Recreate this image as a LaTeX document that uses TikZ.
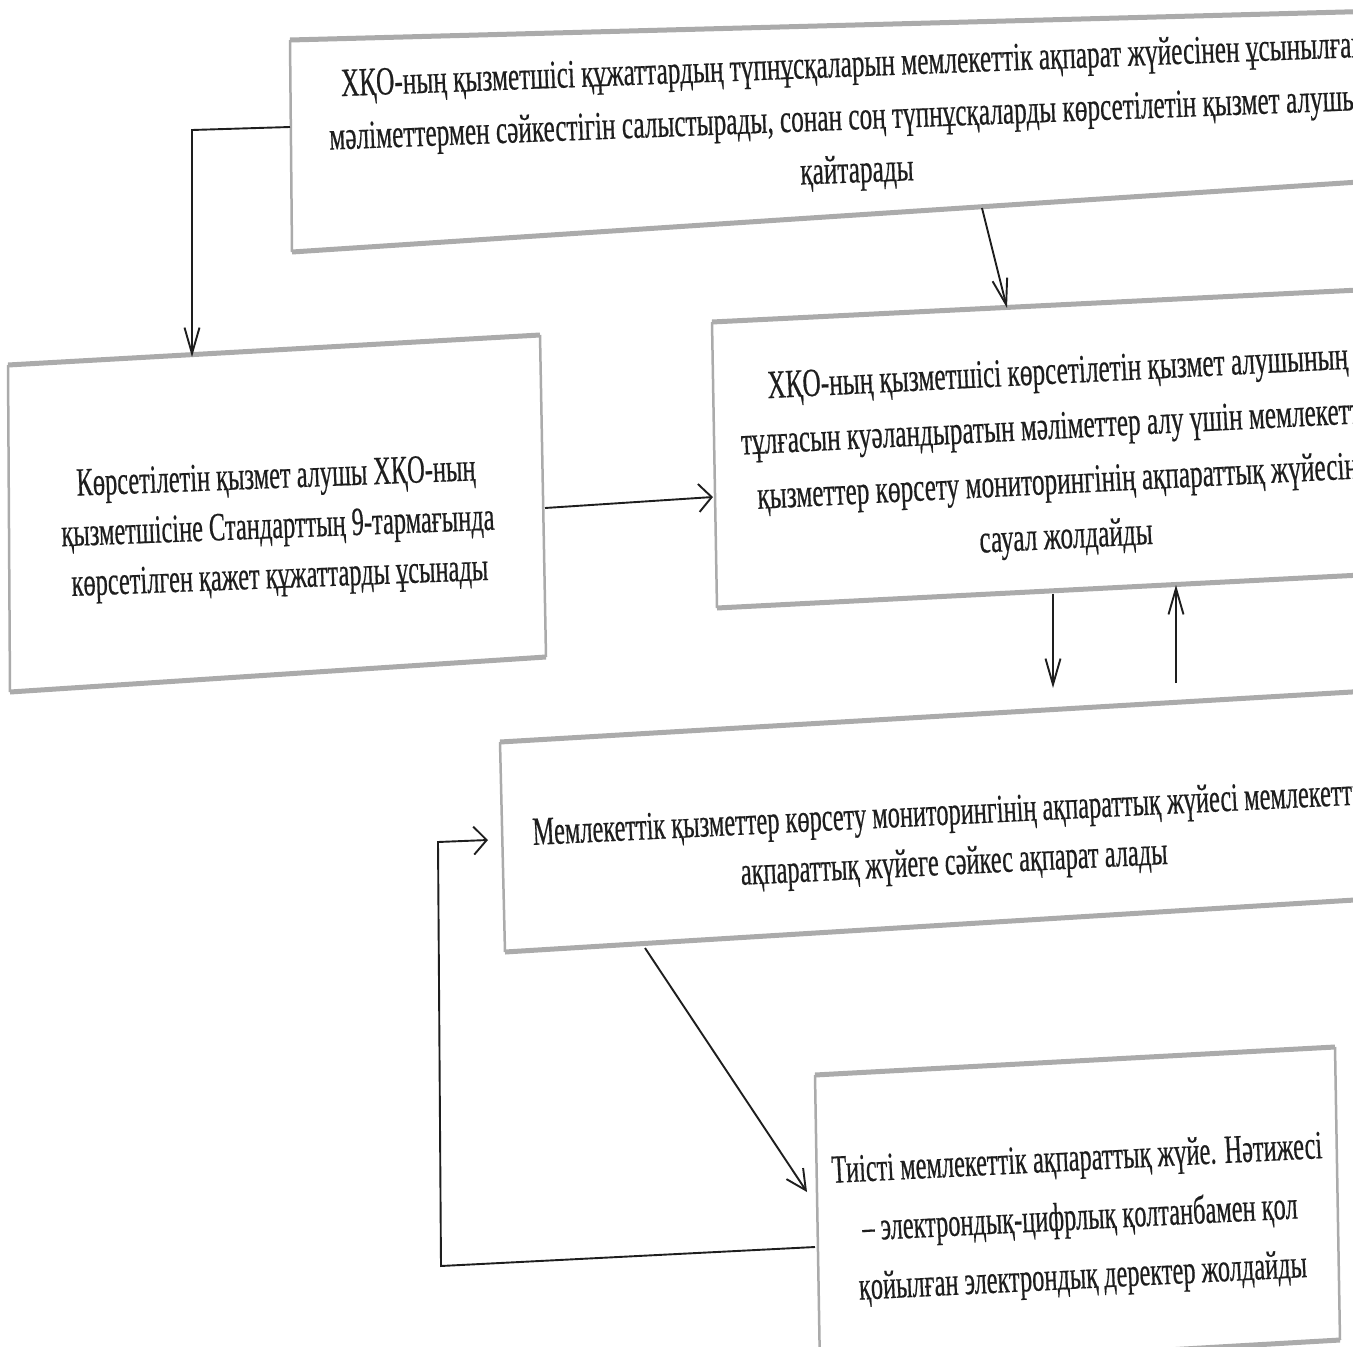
\documentclass[tikz,border=0pt]{standalone}
\usepackage{fontspec}
\setmainfont{Liberation Serif}[FakeStretch=0.61,FakeBold=0.4]
\newfontfamily\kzwide{Liberation Serif}[FakeStretch=0.632,FakeBold=0.4]
\usetikzlibrary{arrows.meta}
\definecolor{ink}{HTML}{1E1E1E}
\definecolor{edgec}{HTML}{ABABAB}
\begin{document}
\begin{tikzpicture}[x=1pt,y=-1pt,
  hedge/.style={draw=edgec, line width=5pt},
  vedge/.style={draw=edgec, line width=2.5pt},
  txt/.style={align=center, text=ink, inner sep=0pt, font=\fontsize{40}{50}\selectfont},
  conn/.style={draw=ink, line width=1.9pt},
  vtip/.style={-{Straight Barb[length=26pt,width=15pt]}},
  htip/.style={-{Straight Barb[length=13pt,width=28pt]}},
  dtip/.style={-{Straight Barb[length=20pt,width=20pt]}}
]
\useasboundingbox (0,0) rectangle (1353,1347);
\clip (0,0) rectangle (1353,1347);
\fill[white] (0,0) rectangle (1353,1347);

% ---- box corners
\coordinate (t-nw) at (290,40);  \coordinate (t-ne) at (1420,10);
\coordinate (t-se) at (1420,178); \coordinate (t-sw) at (292,252);
\coordinate (l-nw) at (8,365);   \coordinate (l-ne) at (540,335);
\coordinate (l-se) at (546,657); \coordinate (l-sw) at (10,692);
\coordinate (r-nw) at (712,322); \coordinate (r-ne) at (1420,287);
\coordinate (r-se) at (1420,572); \coordinate (r-sw) at (717,608);
\coordinate (m-nw) at (500,742); \coordinate (m-ne) at (1420,688);
\coordinate (m-se) at (1420,896); \coordinate (m-sw) at (505,952);
\coordinate (b-nw) at (815,1075); \coordinate (b-ne) at (1335,1047);
\coordinate (b-se) at (1340,1340); \coordinate (b-sw) at (820,1370);

% ---- box outlines
\draw[hedge] (t-nw) -- (t-ne); \draw[hedge] (t-sw) -- (t-se); \draw[vedge] (t-nw) -- (t-sw);
\draw[hedge] (l-nw) -- (l-ne); \draw[hedge] (l-sw) -- (l-se); \draw[vedge] (l-nw) -- (l-sw); \draw[vedge] (l-ne) -- (l-se);
\draw[hedge] (r-nw) -- (r-ne); \draw[hedge] (r-sw) -- (r-se); \draw[vedge] (r-nw) -- (r-sw);
\draw[hedge] (m-nw) -- (m-ne); \draw[hedge] (m-sw) -- (m-se); \draw[vedge] (m-nw) -- (m-sw);
\draw[hedge] (b-nw) -- (b-ne); \draw[hedge] (b-sw) -- (b-se); \draw[vedge] (b-nw) -- (b-sw); \draw[vedge] (b-ne) -- (b-se);

% ---- texts
\node[txt, rotate=2.2, font=\kzwide\fontsize{40}{53}\selectfont] (top) at (855,120) {ХҚО-ның қызметшісі құжаттардың түпнұсқаларын мемлекеттік ақпарат жүйесінен ұсынылған\\мәліметтермен сәйкестігін салыстырады, сонан соң түпнұсқаларды көрсетілетін қызмет алушыға\\қайтарады};
\node[txt, rotate=2.2] (left) at (278,529) {Көрсетілетін қызмет алушы ХҚО-ның\\қызметшісіне Стандарттың 9-тармағында\\көрсетілген қажет құжаттарды ұсынады};
\node[txt, rotate=2.9, font=\kzwide\fontsize{40}{55}\selectfont] (right) at (1062,457) {ХҚО-ның қызметшісі көрсетілетін қызмет алушының\\тұлғасын куәландыратын мәліметтер алу үшін мемлекеттік\\қызметтер көрсету мониторингінің ақпараттық жүйесіне\\сауал жолдайды};
\node[txt, rotate=2.8] (mid) at (953,840) {Мемлекеттік қызметтер көрсету мониторингінің ақпараттық жүйесі мемлекеттік\\ақпараттық жүйеге сәйкес ақпарат алады};
\node[txt, rotate=2.9, font=\fontsize{40}{59}\selectfont] (bot) at (1080,1220) {Тиісті мемлекеттік ақпараттық жүйе. Нәтижесі\\– электрондық-цифрлық қолтанбамен қол\\қойылған электрондық деректер жолдайды};

% ---- connector end points
\coordinate (a1s) at (290,127); \coordinate (a1c) at (192,130); \coordinate (a1e) at (192,357);
\coordinate (a2s) at (982,208); \coordinate (a2e) at (1007,308);
\coordinate (a3s) at (545,508); \coordinate (a3e) at (713,497);
\coordinate (a4s) at (1053,594); \coordinate (a4e) at (1053,688);
\coordinate (a5s) at (1176,683); \coordinate (a5e) at (1176,585);
\coordinate (a6s) at (645,948); \coordinate (a6e) at (807,1192);
\coordinate (a7s) at (815,1247); \coordinate (a7c1) at (441,1266); \coordinate (a7c2) at (438,842); \coordinate (a7e) at (488,840);

% ---- connectors
\draw[conn, vtip] (a1s) -- (a1c) -- (a1e);
\draw[conn, vtip] (a2s) -- (a2e);
\draw[conn, htip] (a3s) -- (a3e);
\draw[conn, vtip] (a4s) -- (a4e);
\draw[conn, vtip] (a5s) -- (a5e);
\draw[conn, dtip] (a6s) -- (a6e);
\draw[conn, htip] (a7s) -- (a7c1) -- (a7c2) -- (a7e);
\end{tikzpicture}
\end{document}
